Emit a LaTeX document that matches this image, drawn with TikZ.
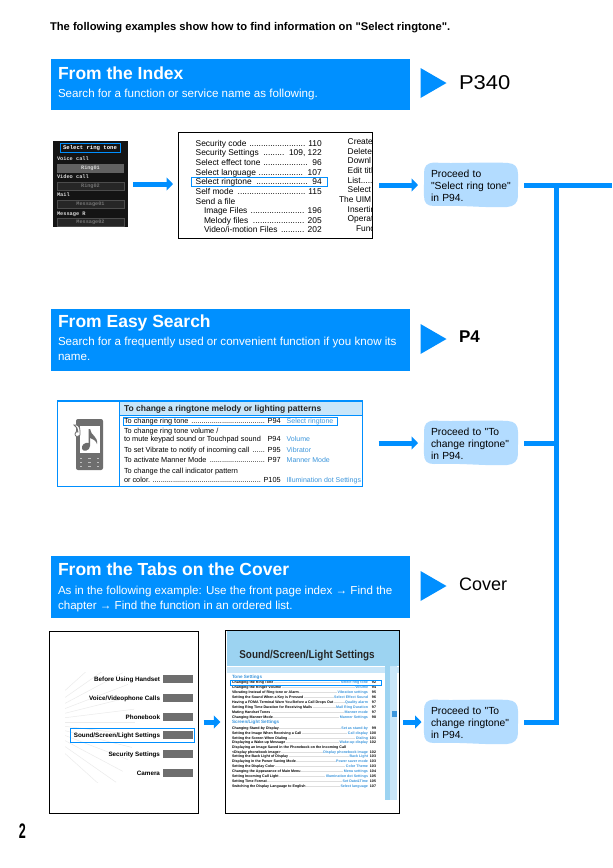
\documentclass[tikz,border=0pt]{standalone}
\usepackage{fontspec}
\setmainfont[Ligatures=TeXOff]{Liberation Sans}
\setmonofont{Liberation Mono}
\usetikzlibrary{arrows.meta,calc}
\definecolor{flowblue}{HTML}{008FFF}
\definecolor{headblue}{HTML}{0090FF}
\definecolor{bubbleblue}{HTML}{B3DCFF}
\definecolor{linkblue}{HTML}{3C96DC}
\definecolor{bandblue}{HTML}{C9E6F9}
\definecolor{skyblue}{HTML}{9CD3F1}
\definecolor{iconGray}{HTML}{6E6E6E}
\newcommand\setfs[1]{\fontsize{#1}{#1}\selectfont\leavevmode\vrule height .94em depth .22em width 0pt\relax}
\newcommand\bubfs{\fontsize{10.3}{12}\selectfont\strut}
\newcommand\denselead{\leaders\hbox{.}\hfill}
\newcounter{rw}
\newcommand\idxrow[4]{\stepcounter{rw}\node[txt] (row\therw) at (#1,#2) {\setfs{8.4}\hbox to \dimexpr321.7pt-#1pt\relax{#3\ \denselead\ #4}};}
\newcommand\idxcut[3]{\stepcounter{rw}\node[txt] (row\therw) at (#1,#2) {\setfs{8.4}#3};}
\newcommand\tabrow[5]{\stepcounter{rw}\node[txt] (row\therw) at (124,#1) {\setfs{7.35}\hbox to #5pt{#2\ \denselead\ #3}};\stepcounter{rw}\node[txt,text=linkblue] (row\therw) at (286.7,#1) {\setfs{7}#4};}
\newcommand\listrow[4]{\stepcounter{rw}\node[txt] (row\therw) at (232,#1) {\setfs{3.6}\hbox to 136pt{\textbf{#2}\denselead\textcolor{linkblue}{\textbf{#3}}}};\stepcounter{rw}\node[txt,anchor=east] (row\therw) at (376,#1) {\setfs{3.6}\textbf{#4}};}
\newcommand\capt[2]{\stepcounter{rw}\node[txt,anchor=east,font=\bfseries] (row\therw) at (160,#1) {\setfs{6.3}#2};\stepcounter{rw}\node[fill=iconGray,minimum width=30pt,minimum height=7.5pt,inner sep=0pt] (row\therw) at (178,#1) {};}
\newcommand\phrow[2]{\stepcounter{rw}\node[txt,text=black!15,font=\ttfamily\bfseries] (row\therw) at (57,#1) {\setfs{5.3}#2};}
\newcommand\phval[2]{\stepcounter{rw}\node[draw=black!70,fill=black!85,minimum width=67pt,minimum height=8.5pt,inner sep=0pt,text=black!55,font=\ttfamily\bfseries] (row\therw) at (90.5,#1) {\setfs{5.2}#2};}
\newcommand\blob[2]{\fill[bubbleblue,shift={(#1,#2)}] (0,10) .. controls (0,3) and (3,0) .. (10,-0.5) .. controls (30,1) and (60,-1.5) .. (84,0) .. controls (91,0.5) and (94,4) .. (94,11) .. controls (94.5,20) and (93.5,28) .. (94,33) .. controls (94,40) and (90,43.5) .. (83,44) .. controls (60,45) and (40,42) .. (10,43) .. controls (3,43) and (0,40) .. (0,33) .. controls (-0.5,25) and (0.5,18) .. (0,10) -- cycle;}
\tikzset{
  txt/.style={anchor=west,inner sep=0pt,outer sep=0pt,align=left},
  header/.style={anchor=north west,fill=headblue,inner sep=0pt,outer sep=0pt,minimum width=359pt},
  headtitle/.style={txt,text=white,font=\bfseries},
  headsub/.style={txt,text=white},
  flow/.style={draw=flowblue,line width=5pt,-{Triangle[length=6.5pt,width=13pt]},shorten <=5pt,shorten >=5pt},
  link/.style={draw=flowblue,line width=5pt,shorten <=6pt},
  bubble/.style={minimum width=94pt,minimum height=43pt,inner xsep=7pt,inner ysep=0pt,outer sep=0pt,anchor=north west,text width=80pt,align=left},
  frame/.style={draw=black,line width=1pt,fill=white,anchor=north west,inner sep=0pt,outer sep=0pt},
  hilite/.style={draw=flowblue,line width=0.9pt,inner sep=0pt,outer sep=0pt,anchor=north west},
  tri/.style={fill=flowblue,draw=none},
}
\begin{document}
\begin{tikzpicture}[x=1pt,y=-1pt]
\useasboundingbox (0,0) rectangle (613,868);
\fill[white] (0,0) rectangle (613,868);

\node[txt,font=\bfseries] (lead) at (50,26) {\setfs{11.2}The following examples show how to find information on "Select ringtone".};

% ---------- Index section
\node[header,minimum height=51pt] (h1) at (51,59) {};
\node[headtitle] (h1t) at (58,73) {\setfs{17.5}From the Index};
\node[headsub] (h1s) at (58,93) {\setfs{11.6}Search for a function or service name as following.};
\fill[tri] (420.5,68) -- (446.5,83) -- (420.5,98) -- cycle;
\node[txt] (p340) at (459,82) {\scalebox{1.1}[1]{\setfs{20}P340}};

% phone screen
\node[anchor=north west,fill=black!92,minimum width=75pt,minimum height=86pt,inner sep=0pt,outer sep=0pt] (phone) at (53,141) {};
\node[hilite,minimum width=60pt,minimum height=9pt,text=white,font=\ttfamily\bfseries] (phtitle) at (60,143) {\setfs{5.6}Select ring tone};
\phrow{159}{Voice call}
\node[fill=black!62,minimum width=67pt,minimum height=9pt,inner sep=0pt,text=black!15,font=\ttfamily\bfseries] (ring1) at (90.5,168) {\setfs{5.2}Ring01};
\phrow{177}{Video call}
\phval{186}{Ring02}
\phrow{195}{Mail}
\phval{204}{Message01}
\phrow{214}{Message R}
\phval{222}{Message02}

% index page
\node[frame,minimum width=194.5pt,minimum height=105.5pt] (index) at (178,132.7) {};
\idxrow{195.7}{143.3}{Security code}{110}
\idxrow{195.7}{152.5}{Security Settings}{109, 122}
\idxrow{195.7}{162}{Select effect tone}{96}
\idxrow{195.7}{172}{Select language}{107}
\idxrow{195.7}{181.5}{Select ringtone}{94}
\idxrow{195.7}{191}{Self mode}{115}
\idxcut{195.7}{201}{Send a file}
\idxrow{204}{210.5}{Image Files}{196}
\idxrow{204}{220}{Melody files}{205}
\idxrow{204}{229.5}{Video/i-motion Files}{202}
\begin{scope}
\clip (335,134) rectangle (372,237);
\idxcut{347.7}{141}{Create}
\idxcut{347.7}{151}{Delete}
\idxcut{347.7}{160.5}{Downl}
\idxcut{347.7}{170}{Edit titl}
\idxcut{347.7}{180}{List.....}
\idxcut{347.7}{189.5}{Select}
\idxcut{339}{199}{The UIM}
\idxcut{347.7}{209}{Insertin}
\idxcut{347.7}{218.5}{Operat}
\idxcut{356}{228}{Func}
\end{scope}
\node[hilite,minimum width=136pt,minimum height=8.5pt] (idxmark) at (191,177.8) {};

\blob{424}{163}
\node[bubble] (b1) at (424,163.5) {\bubfs Proceed to\\"Select ring tone"\\in P94.};
\draw[flow] (phone.east) -- (phone.east -| index.west);
\draw[flow,shorten <=6.5pt,shorten >=6pt] (index.east |- b1.west) -- (b1.west);

% ---------- Easy Search section
\node[header,minimum height=62pt] (h2) at (51,309) {};
\node[headtitle] (h2t) at (58,321) {\setfs{17.5}From Easy Search};
\node[headsub] (h2s) at (58,341) {\setfs{11.6}Search for a frequently used or convenient function if you know its};
\node[headsub] (h2s2) at (58,356) {\setfs{11.6}name.};
\fill[tri] (420.5,324) -- (446.5,339) -- (420.5,354) -- cycle;
\node[txt,font=\bfseries] (p4) at (459,336) {\setfs{17}P4};

\node[anchor=north west,draw=flowblue,line width=1.4pt,fill=white,minimum width=305.5pt,minimum height=85.5pt,inner sep=0pt,outer sep=0pt] (search) at (57.2,400.8) {};
\fill[bandblue] (119.3,401.5) rectangle (362,415);
\draw[flowblue,line width=1pt] (119.3,415) -- (362.5,415);
\draw[flowblue,line width=1.2pt] (119.3,400.8) -- (119.3,486.3);
\node[txt,font=\bfseries,text=black!85] (stitle) at (124,408) {\setfs{8.5}To change a ringtone melody or lighting patterns};
\tabrow{420.8}{To change ring tone}{P94}{Select ringtone}{156.7}
\node[txt] (s2a) at (124,430.7) {\setfs{7.35}To change ring tone volume /};
\tabrow{439}{to mute keypad sound or Touchpad sound}{P94}{Volume}{156.7}
\tabrow{449.7}{To set Vibrate to notify of incoming call}{P95}{Vibrator}{156.7}
\tabrow{460.3}{To activate Manner Mode}{P97}{Manner Mode}{156.7}
\node[txt] (s5a) at (124,471) {\setfs{7.35}To change the call indicator pattern};
\tabrow{479.7}{or color.}{P105}{Illumination dot Settings}{156.7}
\node[hilite,minimum width=214.5pt,minimum height=8.4pt] (smark) at (123,417) {};
% phone icon
\fill[iconGray,rounded corners=2pt] (76,419) rectangle (103,470);
\fill[white] (80,426) rectangle (100,453);
\fill[iconGray] (88.5,429) -- (90,429) -- (90,446) .. controls (90,451) and (83,452) .. (82,449) .. controls (81,445) and (85,442) .. (88.5,443) -- cycle;
\fill[iconGray] (90,429) .. controls (91,436) and (98,436) .. (97,444) .. controls (96,440) and (92,439) .. (90,438) -- cycle;
\draw[iconGray,fill=white,line width=0.8pt] (74,425) .. controls (78,424) and (80,427) .. (80,431) -- (80,435) .. controls (78,437) and (75,437) .. (75,434) .. controls (75,432) and (77,431) .. (78,432) -- (77,428) -- cycle;
\foreach \bx in {81,89.5,98} \foreach \by in {458,462,466} \fill[black!25] (\bx-1.2,\by-0.5) rectangle (\bx+1.2,\by+0.5);

\blob{424}{421}
\node[bubble] (b2) at (424,421.5) {\bubfs Proceed to "To\\change ringtone"\\in P94.};
\draw[flow,shorten <=16pt,shorten >=6pt] (search.east |- b2.west) -- (b2.west);

% ---------- Cover section
\node[header,minimum height=62pt] (h3) at (51,556) {};
\node[headtitle] (h3t) at (58,569) {\setfs{17.5}From the Tabs on the Cover};
\node[headsub] (h3s) at (58,590) {\setfs{11.6}As in the following example: Use the front page index → Find the};
\node[headsub] (h3s2) at (58,605) {\setfs{11.6}chapter → Find the function in an ordered list.};
\fill[tri] (420.5,571) -- (446.5,586) -- (420.5,601) -- cycle;
\node[txt] (cov) at (459,584) {\setfs{18}Cover};

% cover tabs page
\node[frame,minimum width=149pt,minimum height=182.5pt] (tabs) at (49.7,631) {};
\begin{scope}
\clip (65,672) rectangle (135,782);
\foreach \a in {-42,-35,...,42}
  \draw[black!8,line width=0.5pt] (65,{722+35*tan(\a)}) -- ({30+105*cos(\a)},{722+105*sin(\a)});
\end{scope}
\capt{679}{Before Using Handset}
\capt{698}{Voice/Videophone Calls}
\capt{717}{Phonebook}
\capt{735}{Sound/Screen/Light Settings}
\capt{754}{Security Settings}
\capt{773}{Camera}
\node[hilite,minimum width=124pt,minimum height=14.3pt] (tabmark) at (70.3,728) {};

% settings page
\node[frame,minimum width=174pt,minimum height=183.5pt] (list) at (225.3,630.3) {};
\fill[skyblue] (226.5,631) rectangle (398.5,666);
\fill[bandblue] (226.5,667) rectangle (398.5,673);
\fill[skyblue] (385,666) rectangle (390,800);
\fill[bandblue] (390,666) rectangle (397,800);
\fill[white] (227,673) rectangle (385,800);
\fill[linkblue] (391.5,711) rectangle (397,717);
\node[font=\bfseries,text=black!85,inner sep=0pt] (ltitle) at (307,654) {\scalebox{1}[1.15]{\setfs{9.9}Sound/Screen/Light Settings}};
\node[txt,text=linkblue,font=\bfseries] (tone) at (232,677) {\setfs{4.6}Tone Settings};
\listrow{682.3}{Changing the Ring Tone}{Select ring tone}{92}
\listrow{687}{Changing the Ringer Volume}{Volume}{94}
\listrow{692}{Vibrating Instead of Ring tone or Alarm}{Vibration settings}{95}
\listrow{697}{Setting the Sound When a Key is Pressed}{Select Effect Sound}{96}
\listrow{702}{Having a FOMA Terminal Warn You Before a Call Drops Out}{Quality alarm}{97}
\listrow{707}{Setting Ring Time Duration for Receiving Mails}{Mail Ring Duration}{97}
\listrow{712}{Muting Handset Tones}{Manner mode}{97}
\listrow{717}{Changing Manner Mode}{Manner Settings}{98}
\node[txt,text=linkblue,font=\bfseries] (screenl) at (232,722) {\setfs{4.6}Screen/Light Settings};
\listrow{728}{Changing Stand-by Display}{Set as stand-by}{99}
\listrow{733}{Setting the Image When Receiving a Call}{Call display}{100}
\listrow{738}{Setting the Screen When Dialing}{Dialing}{101}
\listrow{742.5}{Displaying a Wake-up Message}{Wake-up display}{102}
\node[txt,font=\bfseries] (longrow) at (232,747) {\setfs{3.6}Displaying an Image Saved in the Phonebook on the Incoming Call};
\listrow{752}{<Display phonebook image>}{Display phonebook image}{102}
\listrow{756.5}{Setting the Back Light of Display}{Back Light}{103}
\listrow{761}{Displaying in the Power Saving Mode}{Power saver mode}{103}
\listrow{766}{Setting the Display Color}{Color Theme}{103}
\listrow{771}{Changing the Appearance of Main Menu}{Menu settings}{104}
\listrow{776}{Setting Incoming Call Light}{Illumination dot Settings}{105}
\listrow{781}{Setting Time Format}{Set Date\&Time}{105}
\listrow{786}{Switching the Display Language to English}{Select language}{107}
\node[hilite,minimum width=151pt,minimum height=5.2pt] (listmark) at (230,680) {};

\blob{424}{700}
\node[bubble] (b3) at (424,700.5) {\bubfs Proceed to "To\\change ringtone"\\in P94.};
\draw[flow] (tabs.east |- b3.west) -- (list.west |- b3.west);
\draw[flow,shorten <=4pt,shorten >=2.5pt] (list.east |- b3.west) -- (b3.west);

% ---------- return rail
\coordinate (exit) at (612,185);
\coordinate (rail) at (556.5,185);
\draw[link] (b1.east) -- (exit);
\draw[link] (b3.east) -| (rail);
\draw[link] (b2.east) -- (b2.east -| rail);

\node[txt,font=\bfseries] (pageno) at (19,831) {\scalebox{0.6}[1]{\setfs{21}2}};
\end{tikzpicture}
\end{document}
